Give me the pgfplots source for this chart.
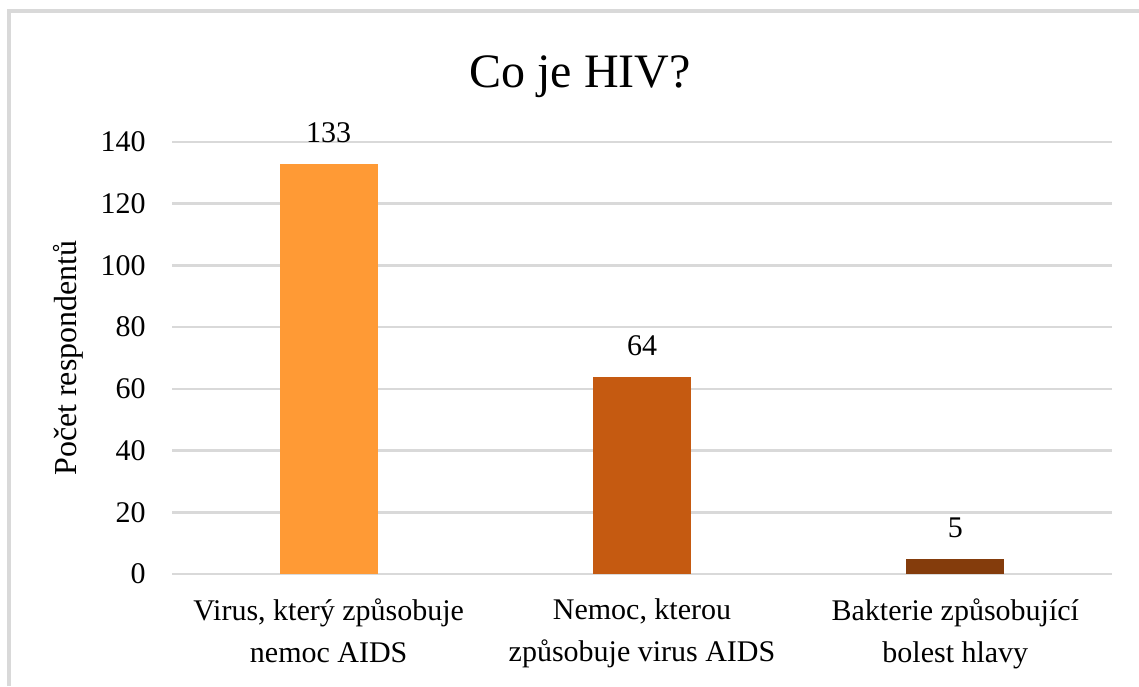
\documentclass[border=0pt]{standalone}
\usepackage{fontspec}
\setmainfont{Liberation Serif}
\usepackage{pgfplots}
\pgfplotsset{compat=1.18}
\definecolor{gridgray}{HTML}{D9D9D9}
\definecolor{barA}{HTML}{FF9A35}
\definecolor{barB}{HTML}{C55A11}
\definecolor{barC}{HTML}{843C0C}
\begin{document}
\begin{tikzpicture}
\useasboundingbox (0,0) rectangle (569.5pt,343pt);
\draw[gridgray, line width=1.6pt] (4.5pt,0pt) -- (4.5pt,337.5pt) -- (569.5pt,337.5pt);
\node[font=\fontsize{24}{28}\selectfont, anchor=base] at (290pt,299pt) {Co je HIV?};
\begin{axis}[
  at={(86pt,56pt)}, anchor=south west,
  scale only axis, width=470pt, height=216pt,
  ybar, bar width=49pt, bar shift=0pt,
  xmin=-0.5, xmax=2.5, ymin=0, ymax=140,
  ytick={0,20,...,140},
  xtick={0,1,2},
  xticklabels={{Virus, který způsobuje\\nemoc AIDS},{Nemoc, kterou\\způsobuje virus AIDS},{Bakterie způsobující\\bolest hlavy}},
  axis line style={draw=none},
  major tick length=0pt,
  ymajorgrids, grid style={gridgray, line width=1.3pt},
  /pgf/number format/assume math mode=true,
  tick label style={font=\fontsize{15}{21}\selectfont},
  yticklabel style={inner sep=0pt, anchor=east, xshift=-13pt},
  xticklabel style={inner sep=0pt, anchor=north, yshift=-12pt, align=center},
  ylabel={Počet respondentů},
  ylabel style={at={(axis description cs:-0.1100,0.5)}, anchor=center, font=\fontsize{16}{19}\selectfont},
  nodes near coords,
  every node near coord/.append style={font=\fontsize{15}{18}\selectfont, inner sep=0pt, anchor=south, yshift=10pt, text=black},
  clip=false,
]
\addplot[fill=barA, draw=none] coordinates {(0,133)};
\addplot[fill=barB, draw=none] coordinates {(1,64)};
\addplot[fill=barC, draw=none] coordinates {(2,5)};
\end{axis}
\end{tikzpicture}
\end{document}
